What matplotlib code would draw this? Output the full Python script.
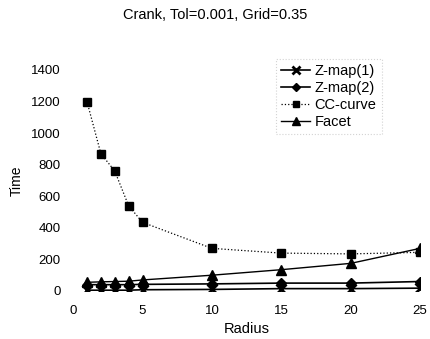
import matplotlib
matplotlib.use("Agg")
import matplotlib.pyplot as plt

plt.rcParams['font.family'] = ['Liberation Sans', 'DejaVu Sans']

radius = [1, 2, 3, 4, 5, 10, 15, 20, 25]
zmap1 = [5, 5, 5, 5, 8, 10, 15, 15, 18]
zmap2 = [40, 40, 40, 40, 42, 45, 50, 50, 60]
cc_curve = [1200, 870, 760, 540, 435, 270, 240, 235, 245]
facet = [55, 58, 60, 62, 70, 100, 135, 175, 270]

title = "Crank, Tol=0.001, Grid=0.35"
xticks = [0, 5, 10, 15, 20, 25]
yticks = [0, 200, 400, 600, 800, 1000, 1200, 1400]

fig = plt.figure(figsize=(4.3, 3.39), dpi=100)
ax = fig.add_axes([0.170, 0.1416, 0.807, 0.652])

ax.plot(radius, zmap1, color='black', lw=1.2, marker='x', ms=7, mew=2, label='Z-map(1)')
ax.plot(radius, zmap2, color='black', lw=1.2, marker='D', ms=5.5, label='Z-map(2)')
ax.plot(radius, cc_curve, color='black', lw=0.9, ls=':', marker='s', ms=6, label='CC-curve')
ax.plot(radius, facet, color='black', lw=1.0, marker='^', ms=7, label='Facet')

ax.set_xlim(0, 25)
ax.set_ylim(0, 1400)
ax.set_xticks(xticks)
ax.set_yticks(yticks)
for s in ax.spines.values():
    s.set_visible(False)
ax.tick_params(axis='y', length=0, labelsize=9.5, pad=9)
ax.tick_params(axis='x', length=0, labelsize=9.5, pad=10)
ax.set_xlabel('Radius', fontsize=10.5, labelpad=4)
ax.set_ylabel('Time', fontsize=10, labelpad=5)
fig.text(0.5, 0.957, title, ha='center', va='center', fontsize=10.5)

leg = ax.legend(loc='upper left', bbox_to_anchor=(0.585, 1.05), fontsize=10.5,
                frameon=True, fancybox=False, handlelength=2.0, handletextpad=0.3,
                labelspacing=0.2, borderaxespad=0, borderpad=0.35, markerscale=0.8)
fr = leg.get_frame()
fr.set_edgecolor('#c8c8c8')
fr.set_linestyle(':')
fr.set_linewidth(0.8)

fig.savefig('out.png', dpi=100)
